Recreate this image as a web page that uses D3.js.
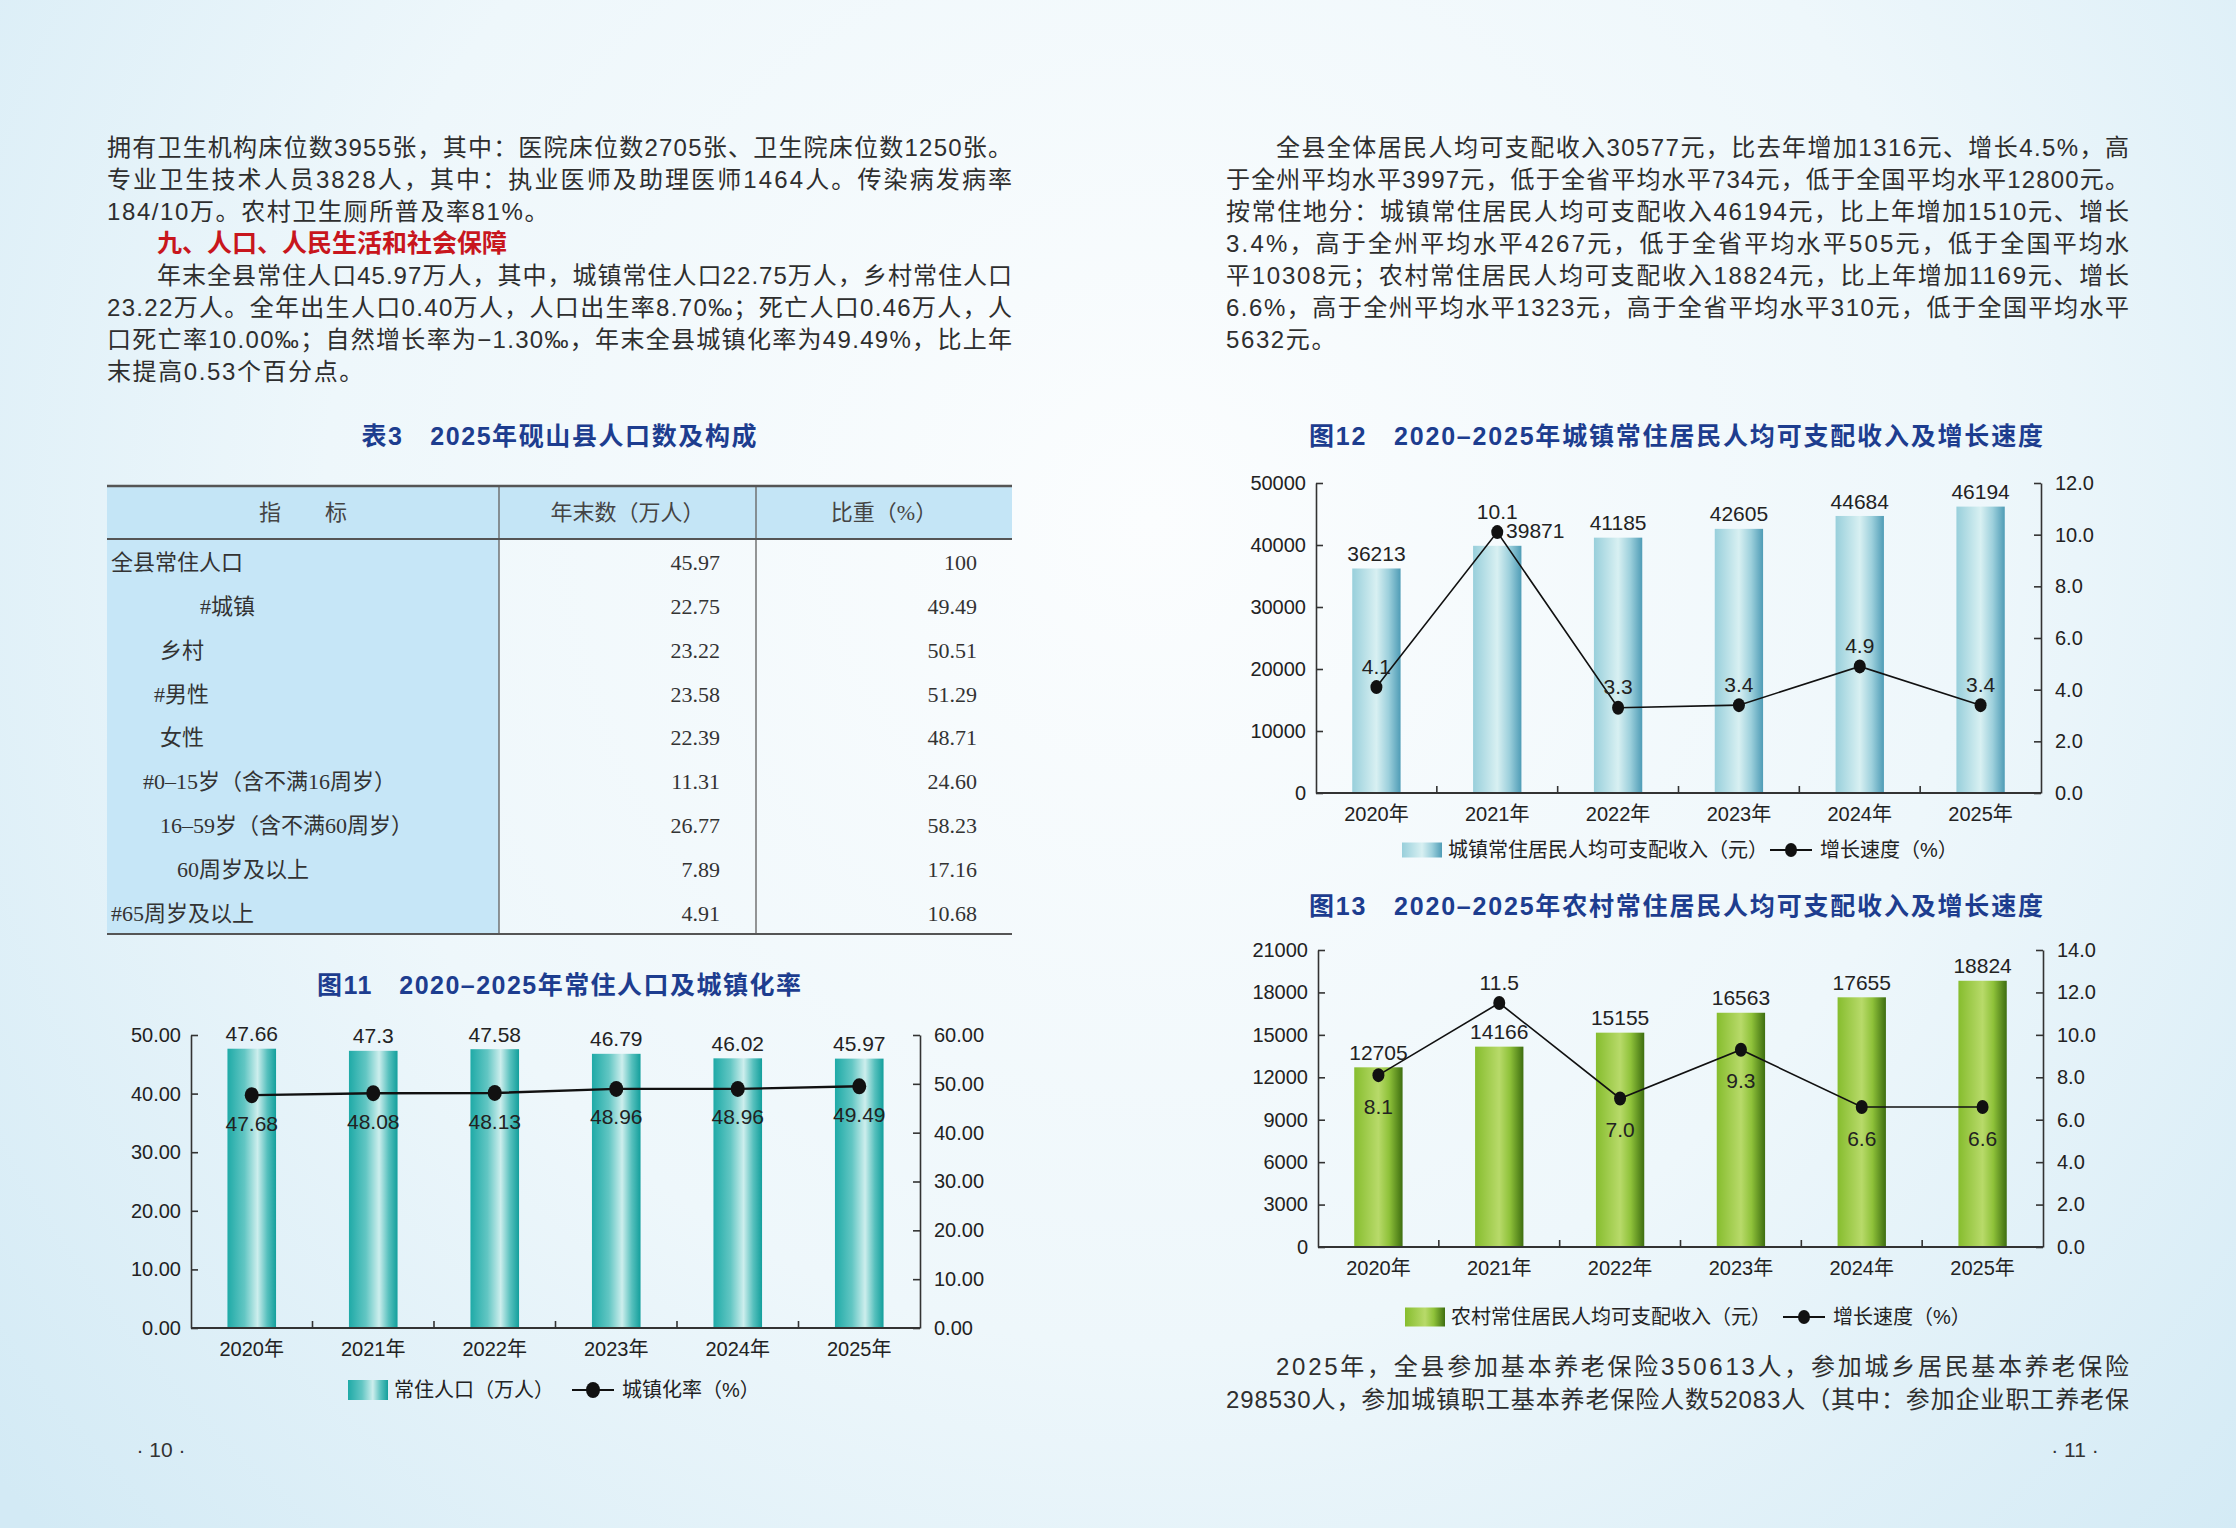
<!DOCTYPE html>
<html lang="zh-CN">
<head>
<meta charset="UTF-8">
<title>砚山县统计公报 第10-11页</title>
<style>
  html, body { margin: 0; padding: 0; background: #eef7fb; }
  svg { display: block; }
  text { font-family: "Liberation Sans Narrow", "Liberation Sans", "Noto Sans CJK SC", sans-serif; }
  .serif { font-family: "Liberation Serif", "Noto Sans CJK SC", serif; }
</style>
</head>
<body>
<script src="https://cdnjs.cloudflare.com/ajax/libs/d3/7.8.5/d3.min.js"></script>
<script>
  const W = 2236, H = 1528;

  // ---- data ----
  const years = ['2020年', '2021年', '2022年', '2023年', '2024年', '2025年'];

  // fig 11
  const population = [47.66, 47.3, 47.58, 46.79, 46.02, 45.97];
  const urbanRate = [47.68, 48.08, 48.13, 48.96, 48.96, 49.49];
  const popTicks = [0, 10, 20, 30, 40, 50];
  const rateTicks = [0, 10, 20, 30, 40, 50, 60];

  // fig 12
  const urbanIncome = [36213, 39871, 41185, 42605, 44684, 46194];
  const urbanGrowth = [4.1, 10.1, 3.3, 3.4, 4.9, 3.4];
  const urbanIncomeTicks = [0, 10000, 20000, 30000, 40000, 50000];
  const urbanGrowthTicks = [0, 2, 4, 6, 8, 10, 12];

  // fig 13
  const ruralIncome = [12705, 14166, 15155, 16563, 17655, 18824];
  const ruralGrowth = [8.1, 11.5, 7.0, 9.3, 6.6, 6.6];
  const ruralIncomeTicks = [0, 3000, 6000, 9000, 12000, 15000, 18000, 21000];
  const ruralGrowthTicks = [0, 2, 4, 6, 8, 10, 12, 14];

  // table 3
  const tableItems = ['全县常住人口', '#城镇', '乡村', '#男性', '女性',
    '#0–15岁（含不满16周岁）', '16–59岁（含不满60周岁）', '60周岁及以上', '#65周岁及以上'];
  const tableCount = [45.97, 22.75, 23.22, 23.58, 22.39, 11.31, 26.77, 7.89, 4.91];
  const tableShare = [100, 49.49, 50.51, 51.29, 48.71, 24.60, 58.23, 17.16, 10.68];
  const tableHead = ['指　　标', '年末数（万人）', '比重（%）'];

  // body text
  const leftLines = [
    {t: '拥有卫生机构床位数3955张，其中：医院床位数2705张、卫生院床位数1250张。', j: true},
    {t: '专业卫生技术人员3828人，其中：执业医师及助理医师1464人。传染病发病率', j: true},
    {t: '184/10万。农村卫生厕所普及率81%。'},
    null,
    {t: '年末全县常住人口45.97万人，其中，城镇常住人口22.75万人，乡村常住人口', j: true, ind: true},
    {t: '23.22万人。全年出生人口0.40万人，人口出生率8.70‰；死亡人口0.46万人，人', j: true},
    {t: '口死亡率10.00‰；自然增长率为−1.30‰，年末全县城镇化率为49.49%，比上年', j: true},
    {t: '末提高0.53个百分点。'}
  ];
  const rightLines = [
    {t: '全县全体居民人均可支配收入30577元，比去年增加1316元、增长4.5%，高', j: true, ind: true},
    {t: '于全州平均水平3997元，低于全省平均水平734元，低于全国平均水平12800元。', j: true},
    {t: '按常住地分：城镇常住居民人均可支配收入46194元，比上年增加1510元、增长', j: true},
    {t: '3.4%，高于全州平均水平4267元，低于全省平均水平505元，低于全国平均水', j: true},
    {t: '平10308元；农村常住居民人均可支配收入18824元，比上年增加1169元、增长', j: true},
    {t: '6.6%，高于全州平均水平1323元，高于全省平均水平310元，低于全国平均水平', j: true},
    {t: '5632元。'}
  ];
  const bottomLines = [
    {t: '2025年，全县参加基本养老保险350613人，参加城乡居民基本养老保险', j: true, ind: true},
    {t: '298530人，参加城镇职工基本养老保险人数52083人（其中：参加企业职工养老保', j: true}
  ];

  const svg = d3.select('body').append('svg')
    .attr('width', W)
    .attr('height', H);

  const defs = svg.append('defs');

  // page background
  const bg = defs.append('radialGradient').attr('id', 'pageBg')
    .attr('gradientUnits', 'userSpaceOnUse')
    .attr('cx', 1150).attr('cy', 520).attr('r', 1500);
  bg.append('stop').attr('offset', 0).attr('stop-color', '#fbfdfe');
  bg.append('stop').attr('offset', 0.55).attr('stop-color', '#eef7fb');
  bg.append('stop').attr('offset', 1).attr('stop-color', '#d3eaf5');

  // bar gradients (cylinder look)
  function barGradient(id, stops) {
    const gr = defs.append('linearGradient').attr('id', id)
      .attr('x1', 0).attr('x2', 1).attr('y1', 0).attr('y2', 0);
    stops.forEach(s => gr.append('stop').attr('offset', s[0]).attr('stop-color', s[1]));
  }
  barGradient('tealBar', [[0, '#1faaa7'], [0.35, '#62c6c3'], [0.62, '#cdeeed'], [0.82, '#56c0bd'], [1, '#139f9c']]);
  barGradient('blueBar', [[0, '#98cfdb'], [0.5, '#d8f0f2'], [0.75, '#9dd0dc'], [1, '#4f9cb6']]);
  barGradient('greenBar', [[0, '#86bd2e'], [0.5, '#b8da6a'], [0.72, '#8fc23a'], [1, '#3e6e10']]);

  svg.append('rect').attr('width', W).attr('height', H).attr('fill', 'url(#pageBg)');

  // ---- paragraphs ----
  function paragraph(lines, x0, x1, y0, lh) {
    lines.forEach((l, i) => {
      if (!l) return;
      const x = l.ind ? x0 + 50 : x0;
      const t = svg.append('text')
        .attr('x', x)
        .attr('y', y0 + i * lh)
        .attr('dy', '0.36em')
        .attr('font-size', 24)
        .attr('fill', '#2e2e2e')
        .text(l.t);
      if (l.j) t.attr('textLength', x1 - x).attr('lengthAdjust', 'spacing');
      else t.attr('letter-spacing', 1.6);
    });
  }
  paragraph(leftLines, 107, 1012, 147, 32);
  paragraph(rightLines, 1226, 2129, 147, 32);
  paragraph(bottomLines, 1226, 2129, 1366, 33);

  svg.append('text')
    .attr('x', 157).attr('y', 243).attr('dy', '0.36em')
    .attr('font-size', 25).attr('font-weight', 700)
    .attr('fill', '#c8161d')
    .text('九、人口、人民生活和社会保障');

  // page numbers
  svg.append('text').attr('x', 161).attr('y', 1449).attr('dy', '0.36em')
    .attr('text-anchor', 'middle').attr('font-size', 21).attr('fill', '#333').text('· 10 ·');
  svg.append('text').attr('x', 2075).attr('y', 1449).attr('dy', '0.36em')
    .attr('text-anchor', 'middle').attr('font-size', 21).attr('fill', '#333').text('· 11 ·');

  function blueTitle(text, cx, cy, len) {
    svg.append('text')
      .attr('x', cx).attr('y', cy).attr('dy', '0.36em')
      .attr('text-anchor', 'middle')
      .attr('font-size', 25).attr('font-weight', 600)
      .attr('fill', '#1d3d8f')
      .attr('textLength', len).attr('lengthAdjust', 'spacing')
      .text(text);
  }

  // ---- table 3 ----
  blueTitle('表3　2025年砚山县人口数及构成', 559, 436, 395);

  const colX = [107, 499, 756, 1012];
  const tTop = 486, tHead = 539, tBottom = 934;
  const rowY = d3.scalePoint().domain(d3.range(tableItems.length)).range([562, 913]);
  const itemIndent = [4, 93, 53, 47, 53, 36, 53, 70, 4];
  const tg = svg.append('g');

  tg.append('rect').attr('x', colX[0]).attr('y', tTop).attr('width', colX[3] - colX[0])
    .attr('height', tHead - tTop).attr('fill', '#c4e5f6');
  tg.append('rect').attr('x', colX[0]).attr('y', tHead).attr('width', colX[1] - colX[0])
    .attr('height', tBottom - tHead).attr('fill', '#c6e6f7');

  [colX[1], colX[2]].forEach(x => {
    tg.append('line').attr('x1', x).attr('x2', x).attr('y1', tTop).attr('y2', tBottom)
      .attr('stroke', '#6a6a6a').attr('stroke-width', 1.4);
  });
  [[tTop, 2.6], [tHead, 2], [tBottom, 2.2]].forEach(([y, w]) => {
    tg.append('line').attr('x1', colX[0]).attr('x2', colX[3]).attr('y1', y).attr('y2', y)
      .attr('stroke', '#555').attr('stroke-width', w);
  });

  tg.selectAll('text.head').data(tableHead).join('text')
    .attr('class', 'head serif')
    .attr('x', (d, i) => (colX[i] + colX[i + 1]) / 2)
    .attr('y', (tTop + tHead) / 2).attr('dy', '0.36em')
    .attr('text-anchor', 'middle')
    .attr('font-size', 22).attr('fill', '#444')
    .text(d => d);

  tg.selectAll('text.item').data(tableItems).join('text')
    .attr('class', 'item serif')
    .attr('x', (d, i) => colX[0] + itemIndent[i])
    .attr('y', (d, i) => rowY(i)).attr('dy', '0.36em')
    .attr('font-size', 22).attr('fill', '#333')
    .text(d => d);
  tg.selectAll('text.count').data(tableCount).join('text')
    .attr('class', 'count serif')
    .attr('x', 720).attr('text-anchor', 'end')
    .attr('y', (d, i) => rowY(i)).attr('dy', '0.36em')
    .attr('font-size', 22).attr('fill', '#333')
    .text(d => d.toFixed(2));
  tg.selectAll('text.share').data(tableShare).join('text')
    .attr('class', 'share serif')
    .attr('x', 977).attr('text-anchor', 'end')
    .attr('y', (d, i) => rowY(i)).attr('dy', '0.36em')
    .attr('font-size', 22).attr('fill', '#333')
    .text(d => Number.isInteger(d) ? String(d) : d.toFixed(2));

  // ---- combo bar + line charts ----
  function comboChart(o) {
    const g = svg.append('g');
    const x = d3.scaleBand().domain(years).range([o.left, o.right])
      .paddingInner(0.6).paddingOuter(0.3);
    const bw = x.bandwidth();
    const cx = d => x(d) + bw / 2;
    const yL = d3.scaleLinear().domain(d3.extent(o.barTicks)).range([o.bottom, o.top]);
    const yR = d3.scaleLinear().domain(d3.extent(o.lineTicks)).range([o.bottom, o.top]);

    blueTitle(o.title, o.titleX, o.titleY, o.titleLen);

    // bars
    g.selectAll('rect.bar').data(o.bars).join('rect')
      .attr('class', 'bar')
      .attr('x', (d, i) => x(years[i]))
      .attr('y', d => yL(d))
      .attr('width', bw)
      .attr('height', d => o.bottom - yL(d))
      .attr('fill', `url(#${o.grad})`);

    // axes
    const styleAxis = sel => {
      sel.selectAll('path, line').attr('stroke', '#333').attr('stroke-width', 1.6);
      sel.selectAll('text').attr('font-size', 20).attr('fill', '#222')
        .attr('font-family', '"Liberation Sans Narrow", "Liberation Sans", sans-serif');
    };
    g.append('g').attr('transform', `translate(${o.left},0)`)
      .call(d3.axisLeft(yL).tickValues(o.barTicks).tickFormat(d3.format(o.barFmt))
        .tickSizeInner(-7).tickSizeOuter(0).tickPadding(10))
      .call(styleAxis);
    g.append('g').attr('transform', `translate(${o.right},0)`)
      .call(d3.axisRight(yR).tickValues(o.lineTicks).tickFormat(d3.format(o.lineFmt))
        .tickSizeInner(-7).tickSizeOuter(0).tickPadding(14))
      .call(styleAxis);

    g.append('line').attr('x1', o.left).attr('x2', o.right)
      .attr('y1', o.bottom).attr('y2', o.bottom)
      .attr('stroke', '#333').attr('stroke-width', 1.8);
    g.selectAll('line.sep').data(years.slice(1)).join('line')
      .attr('class', 'sep')
      .attr('x1', d => x(d) - x.step() * x.paddingInner() / 2)
      .attr('x2', d => x(d) - x.step() * x.paddingInner() / 2)
      .attr('y1', o.bottom).attr('y2', o.bottom - 7)
      .attr('stroke', '#333').attr('stroke-width', 1.6);
    g.selectAll('text.year').data(years).join('text')
      .attr('class', 'year')
      .attr('x', cx).attr('y', o.bottom + 21).attr('dy', '0.36em')
      .attr('text-anchor', 'middle').attr('font-size', 20).attr('fill', '#222')
      .text(d => d);

    // line
    const line = d3.line().x((d, i) => cx(years[i])).y(d => yR(d));
    g.append('path').datum(o.line)
      .attr('d', line).attr('fill', 'none')
      .attr('stroke', '#111').attr('stroke-width', o.lineW);
    g.selectAll('ellipse.dot').data(o.line).join('ellipse')
      .attr('class', 'dot')
      .attr('cx', (d, i) => cx(years[i])).attr('cy', d => yR(d))
      .attr('rx', o.dotR).attr('ry', o.dotR + 1).attr('fill', '#111');

    // bar value labels (moved aside when the line marker sits on them)
    g.selectAll('text.bv').data(o.bars).join('text')
      .attr('class', 'bv')
      .attr('x', (d, i) => {
        const ly = yL(d) - 15;
        return cx(years[i]) + (Math.abs(yR(o.line[i]) - ly) < 20 ? 38 : 0);
      })
      .attr('y', d => yL(d) - 15).attr('dy', '0.36em')
      .attr('text-anchor', 'middle').attr('font-size', 21).attr('fill', '#222')
      .text(d => String(d));

    // line value labels
    g.selectAll('text.lv').data(o.line).join('text')
      .attr('class', 'lv')
      .attr('x', (d, i) => cx(years[i]))
      .attr('y', (d, i) => {
        const above = o.linePos === 'above' ||
          (o.linePos === 'auto' && yR(d) < yL(o.bars[i]));
        return above ? yR(d) - 21 : yR(d) + o.belowGap;
      })
      .attr('dy', '0.36em')
      .attr('text-anchor', 'middle').attr('font-size', 21).attr('fill', '#222')
      .text(d => d3.format(o.lineLabelFmt)(d));

    // legend
    const L = o.legend;
    g.append('rect').attr('x', L.x).attr('y', L.y - L.h / 2)
      .attr('width', 40).attr('height', L.h).attr('fill', `url(#${o.grad})`);
    g.append('text').attr('x', L.x + 46).attr('y', L.y).attr('dy', '0.36em')
      .attr('font-size', 20).attr('fill', '#222').text(o.barName);
    g.append('line').attr('x1', L.mx).attr('x2', L.mx + 42)
      .attr('y1', L.y).attr('y2', L.y).attr('stroke', '#111').attr('stroke-width', 2);
    g.append('ellipse').attr('cx', L.mx + 21).attr('cy', L.y)
      .attr('rx', o.dotR).attr('ry', o.dotR + 1).attr('fill', '#111');
    g.append('text').attr('x', L.mx + 50).attr('y', L.y).attr('dy', '0.36em')
      .attr('font-size', 20).attr('fill', '#222').text(o.lineName);
  }

  comboChart({
    title: '图11　2020–2025年常住人口及城镇化率', titleX: 559, titleY: 985, titleLen: 484,
    left: 191, right: 920, top: 1035, bottom: 1328,
    bars: population, barTicks: popTicks, barFmt: '.2f', grad: 'tealBar',
    line: urbanRate, lineTicks: rateTicks, lineFmt: '.2f', lineLabelFmt: '.2f',
    lineW: 2.4, dotR: 7, linePos: 'below', belowGap: 28,
    barName: '常住人口（万人）', lineName: '城镇化率（%）',
    legend: {x: 348, y: 1390, h: 20, mx: 572}
  });

  comboChart({
    title: '图12　2020–2025年城镇常住居民人均可支配收入及增长速度', titleX: 1676, titleY: 436, titleLen: 734,
    left: 1316, right: 2041, top: 483, bottom: 793,
    bars: urbanIncome, barTicks: urbanIncomeTicks, barFmt: 'd', grad: 'blueBar',
    line: urbanGrowth, lineTicks: urbanGrowthTicks, lineFmt: '.1f', lineLabelFmt: '.1f',
    lineW: 1.6, dotR: 6, linePos: 'above', belowGap: 30,
    barName: '城镇常住居民人均可支配收入（元）', lineName: '增长速度（%）',
    legend: {x: 1402, y: 850, h: 15, mx: 1770}
  });

  comboChart({
    title: '图13　2020–2025年农村常住居民人均可支配收入及增长速度', titleX: 1676, titleY: 906, titleLen: 734,
    left: 1318, right: 2043, top: 950, bottom: 1247,
    bars: ruralIncome, barTicks: ruralIncomeTicks, barFmt: 'd', grad: 'greenBar',
    line: ruralGrowth, lineTicks: ruralGrowthTicks, lineFmt: '.1f', lineLabelFmt: '.1f',
    lineW: 1.6, dotR: 6, linePos: 'auto', belowGap: 31,
    barName: '农村常住居民人均可支配收入（元）', lineName: '增长速度（%）',
    legend: {x: 1405, y: 1317, h: 19, mx: 1783}
  });
</script>
</body>
</html>
